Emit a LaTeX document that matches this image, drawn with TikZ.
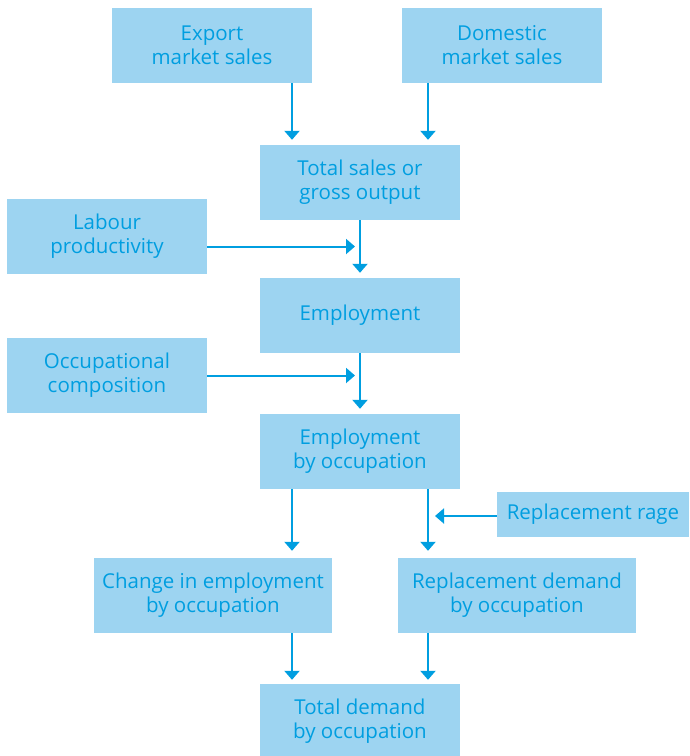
\documentclass[tikz,border=0pt]{standalone}
\usepackage{fontspec}
\setmainfont{Open Sans}
\usepackage{tikz}
\usetikzlibrary{arrows.meta,positioning,calc}
\definecolor{boxfill}{RGB}{157,212,241}
\definecolor{ink}{RGB}{0,158,224}

\begin{document}
\begin{tikzpicture}[x=1pt,y=-1pt,
  box/.style={fill=boxfill,text=ink,minimum width=200pt,minimum height=75pt,align=center,inner sep=0pt,font=\fontsize{20.5}{24}\selectfont},
  arr/.style={-{Triangle[width=15pt,length=9pt]},ink,line width=2pt}]
\useasboundingbox (0,0) rectangle (689,756);
\node[box] (export) at (212,45.5) {Export\\market sales};
\node[box] (domestic) at (502,45.5) {Domestic\\market sales};
\node[box] (tsales) at (360,182.5) {Total sales or\\gross output};
\node[box] (labour) at (107,236.5) {Labour\\productivity};
\node[box] (employ) at (360,315.5) {Employment};
\node[box] (occomp) at (107,375.5) {Occupational\\composition};
\node[box] (empocc) at (360,451.5) {Employment\\by occupation};
\node[box,minimum width=192pt,minimum height=45pt] (rage) at (593,514.5) {Replacement rage};
\node[box,minimum width=238pt] (change) at (213,595.5) {Change in employment\\by occupation};
\node[box,minimum width=238pt] (repdem) at (517,595.5) {Replacement demand\\by occupation};
\node[box] (total) at (360,721.5) {Total demand\\by occupation};
% top inputs
\coordinate (a1) at ([xshift=80pt]export.south);
\coordinate (a2) at ([xshift=-74pt]domestic.south);
\draw[arr,shorten >=5pt] (a1) -- (a1 |- tsales.north);
\draw[arr,shorten >=5pt] (a2) -- (a2 |- tsales.north);
% main chain
\draw[arr,shorten >=5pt] (tsales.south) -- (employ.north);
\draw[arr,shorten >=5pt] (employ.south) -- (empocc.north);
\coordinate (b1) at ([yshift=-10pt]labour.east);
\draw[arr,shorten >=5pt] (b1) -- (b1 -| tsales.south);
\draw[arr,shorten >=5pt] (occomp.east) -- (occomp.east -| employ.south);
% split by occupation
\coordinate (c1) at ([xshift=-68pt]empocc.south);
\coordinate (c2) at ([xshift=68pt]empocc.south);
\draw[arr,shorten >=7pt] (c1) -- (c1 |- change.north);
\draw[arr,shorten >=7pt] (c2) -- (c2 |- repdem.north);
\coordinate (r1) at ([yshift=-1.5pt]rage.west);
\draw[arr,shorten >=7pt] (r1) -- (r1 -| c2);
% totals
\coordinate (d1) at ([xshift=-68pt]total.north);
\coordinate (d2) at ([xshift=68pt]total.north);
\draw[arr,shorten >=4pt] (change.south -| d1) -- (d1);
\draw[arr,shorten >=4pt] (repdem.south -| d2) -- (d2);
\end{tikzpicture}
\end{document}
